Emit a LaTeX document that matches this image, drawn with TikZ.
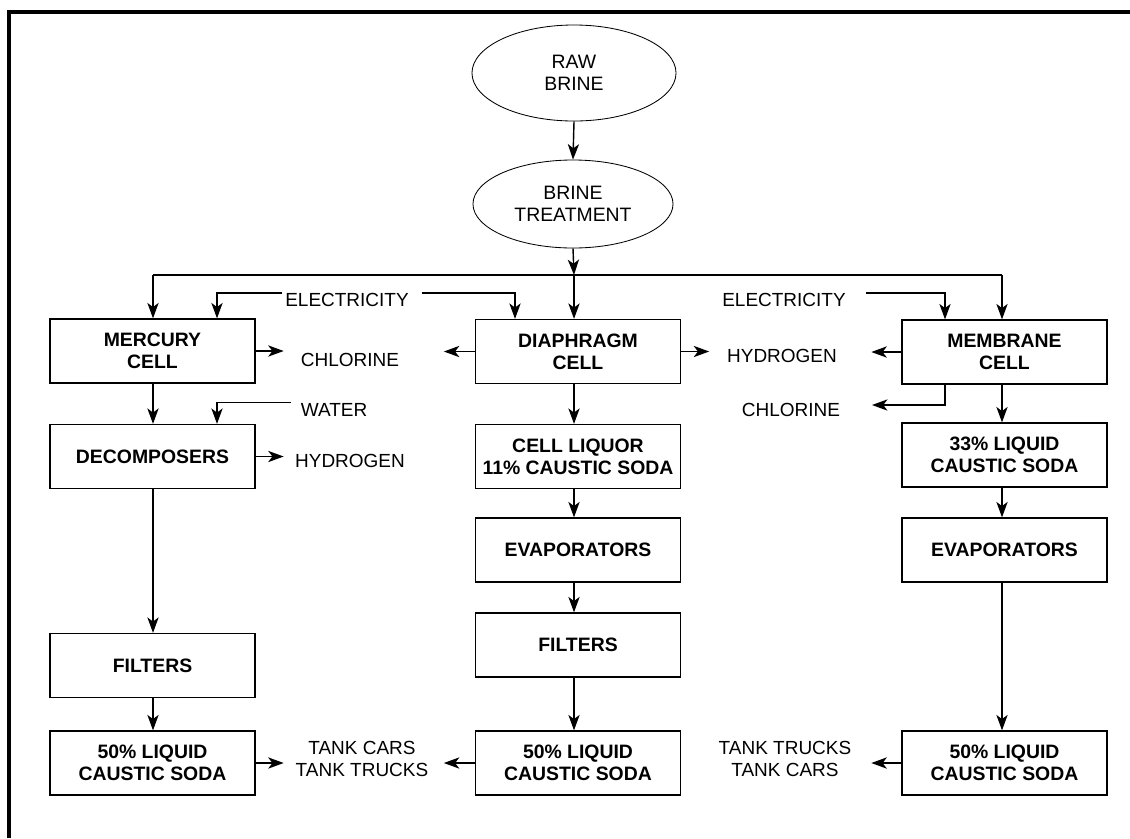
\documentclass[tikz,border=0pt]{standalone}
\usepackage{fontspec}
\setmainfont{Liberation Sans}
\usetikzlibrary{arrows.meta,shapes.geometric}
\begin{document}
\begin{tikzpicture}[x=0.025cm,y=-0.025cm,
  box/.style={draw, line width=0.9pt, inner sep=0pt, minimum width=5.125cm, minimum height=1.6cm,
    font=\bfseries\fontsize{13.8}{15.6}\selectfont, align=center},
  oval/.style={draw, ellipse, line width=0.6pt, inner sep=0pt,
    font=\fontsize{13.8}{15.6}\selectfont, align=center},
  lbl/.style={inner sep=0pt, font=\fontsize{13.5}{16}\selectfont, align=center},
  ln/.style={line width=1pt},
  arr/.style={line width=1pt, -{Stealth[length=11pt,width=8pt,inset=3pt]}}]
\useasboundingbox (0,0) rectangle (1130,838);
% frame
\draw[line width=2.2pt] (9,838) -- (9,12) -- (1130,12);
% ovals
\node[oval, minimum width=5.1cm, minimum height=2.4cm] (raw) at (574,73) {RAW\\BRINE};
\node[oval, minimum width=5.0cm, minimum height=2.2cm] (treat) at (573,204) {BRINE\\TREATMENT};
% columns
\coordinate (busL) at (153,275);
\coordinate (busC) at (574,275);
\coordinate (busR) at (1002,275);
% boxes
\node[box] (merc)   at (152.5,351) {MERCURY\\CELL};
\node[box] (decomp) at (152.5,456.5) {DECOMPOSERS};
\node[box] (filtL)  at (152.5,665.5) {FILTERS};
\node[box] (botL)   at (152.5,763) {50\% LIQUID\\CAUSTIC SODA};
\node[box] (diaph)  at (578,351.5) {DIAPHRAGM\\CELL};
\node[box] (liquor) at (578,456.5) {CELL LIQUOR\\11\% CAUSTIC SODA};
\node[box] (evapM)  at (578,550) {EVAPORATORS};
\node[box] (filtM)  at (578,645) {FILTERS};
\node[box] (botM)   at (578,763) {50\% LIQUID\\CAUSTIC SODA};
\node[box] (memb)   at (1004.5,352) {MEMBRANE\\CELL};
\node[box] (b33)    at (1004.5,455) {33\% LIQUID\\CAUSTIC SODA};
\node[box] (evapR)  at (1004.5,550) {EVAPORATORS};
\node[box] (botR)   at (1004.5,763) {50\% LIQUID\\CAUSTIC SODA};
% labels
\node[lbl] (elecL) at (347,300) {ELECTRICITY};
\node[lbl] (elecR) at (784,300) {ELECTRICITY};
\node[lbl] (chlL)  at (350,360) {CHLORINE};
\node[lbl] (hydM)  at (782,356) {HYDROGEN};
\node[lbl] (chlR)  at (791,410) {CHLORINE};
\node[lbl] (water) at (334,409.5) {WATER};
\node[lbl] (hydL)  at (350,461) {HYDROGEN};
\node[lbl] (tankL) at (362,759) {TANK CARS\\TANK TRUCKS};
\node[lbl] (tankR) at (785,759) {TANK TRUCKS\\TANK CARS};
\coordinate (chlRin) at (872,405);
% top flow
\draw[arr] (raw.south) -- (treat.north);
\draw[arr] (treat.south) -- (busC);
\draw[ln] (busL) -- (busR);
\draw[arr] (busL) -- (busL |- merc.north);
\draw[arr] (busC) -- (busC |- diaph.north);
\draw[arr] (busR) -- (busR |- memb.north);
% electricity
\draw[arr] ([xshift=-2pt]elecL.north west) -| (217,0 |- merc.north);
\draw[arr] ([xshift=9pt]elecL.north east) -| (515,0 |- diaph.north);
\draw[arr] ([xshift=14pt]elecR.north east) -| (945,0 |- memb.north);
% side products
\draw[arr] (merc.east) -- ++(28,0);
\draw[arr] (diaph.west) -- ++(-31,0);
\draw[arr] (diaph.east) -- ++(28,0);
\draw[arr] (memb.west) -- ++(-30,0);
\draw[arr] (memb.south -| 945,0) |- (chlRin);
\draw[arr] ([xshift=-7pt]water.north west) -| (217,0 |- decomp.north);
\draw[arr] (decomp.east) -- ++(28,0);
% left column
\draw[arr] (merc.south -| busL) -- (decomp.north -| busL);
\draw[arr] (decomp.south -| busL) -- (filtL.north -| busL);
\draw[arr] (filtL.south -| busL) -- (botL.north -| busL);
% middle column
\draw[arr] (diaph.south -| busC) -- (liquor.north -| busC);
\draw[arr] (liquor.south -| busC) -- (evapM.north -| busC);
\draw[arr] (evapM.south -| busC) -- (filtM.north -| busC);
\draw[arr] (filtM.south -| busC) -- (botM.north -| busC);
% right column
\draw[arr] (memb.south -| busR) -- (b33.north -| busR);
\draw[arr] (b33.south -| busR) -- (evapR.north -| busR);
\draw[arr] (evapR.south -| busR) -- (botR.north -| busR);
% products
\draw[arr] (botL.east) -- ++(28,0);
\draw[arr] (botM.west) -- ++(-31,0);
\draw[arr] (botR.west) -- ++(-30,0);
\end{tikzpicture}
\end{document}
